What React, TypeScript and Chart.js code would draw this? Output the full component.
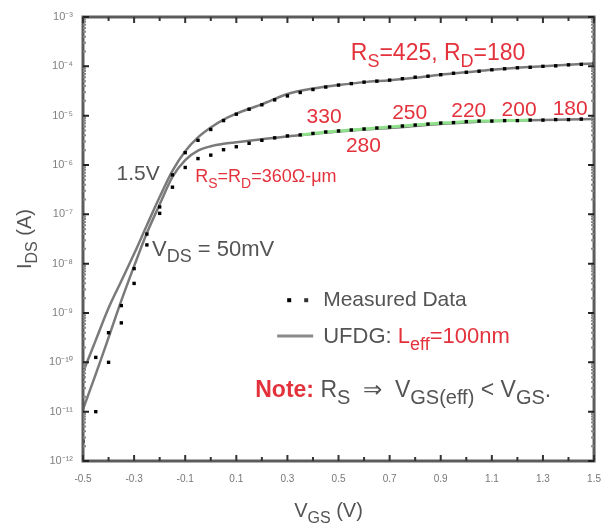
import { useEffect, useRef } from 'react';
import { Chart, registerables } from 'chart.js';

Chart.register(...registerables);

// ---------- data ----------
const vgsModel = [-0.5, -0.45, -0.4, -0.35, -0.3, -0.25, -0.2, -0.15, -0.1, -0.05, 0, 0.05, 0.1, 0.15, 0.2, 0.3, 0.4, 0.5, 0.6, 0.7, 0.8, 0.9, 1.0, 1.1, 1.2, 1.3, 1.4, 1.5];
// log10(Ids) of the UFDG model, Vds = 1.5 V
const logModelHigh = [-10.2, -9.55, -8.9, -8.35, -7.8, -7.22, -6.65, -6.12, -5.72, -5.44, -5.24, -5.08, -4.96, -4.86, -4.77, -4.56, -4.45, -4.38, -4.32, -4.28, -4.23, -4.17, -4.12, -4.07, -4.03, -4.0, -3.97, -3.94];
// log10(Ids) of the UFDG model, Vds = 50 mV
const logModelLow = [-10.95, -10.24, -9.5, -8.75, -8.05, -7.38, -6.8, -6.24, -5.9, -5.71, -5.62, -5.57, -5.54, -5.51, -5.48, -5.42, -5.37, -5.32, -5.28, -5.25, -5.21, -5.17, -5.14, -5.11, -5.1, -5.09, -5.08, -5.07];

const vgsMeasured = [-0.5, -0.45, -0.4, -0.35, -0.3, -0.25, -0.2, -0.15, -0.1, -0.05, 0, 0.05, 0.1, 0.15, 0.2, 0.25, 0.3, 0.35, 0.4, 0.45, 0.5, 0.55, 0.6, 0.65, 0.7, 0.75, 0.8, 0.85, 0.9, 0.95, 1.0, 1.05, 1.1, 1.15, 1.2, 1.25, 1.3, 1.35, 1.4, 1.45, 1.5];
// measured log10(Ids), Vds = 1.5 V
const logMeasHigh = [-10.3, -9.9, -9.4, -8.85, -8.1, -7.4, -6.85, -6.2, -5.75, -5.5, -5.28, -5.1, -4.97, -4.87, -4.78, -4.68, -4.6, -4.53, -4.47, -4.42, -4.38, -4.35, -4.32, -4.3, -4.28, -4.25, -4.22, -4.2, -4.17, -4.14, -4.12, -4.1, -4.07, -4.05, -4.03, -4.02, -4.0, -3.99, -3.97, -3.96, -3.94];
// measured log10(Ids), Vds = 50 mV
const logMeasLow = [-11.6, -11.0, -10.0, -9.2, -8.4, -7.62, -6.98, -6.45, -6.05, -5.87, -5.8, -5.69, -5.63, -5.56, -5.5, -5.45, -5.41, -5.39, -5.36, -5.33, -5.31, -5.29, -5.27, -5.25, -5.23, -5.21, -5.19, -5.17, -5.15, -5.14, -5.12, -5.11, -5.11, -5.1, -5.1, -5.09, -5.09, -5.08, -5.08, -5.07, -5.07];

// Vgs span of the green highlighted stretch on the 50 mV curve
const greenRange = [0.35, 1.25];

const yDecades = [-12, -11, -10, -9, -8, -7, -6, -5, -4, -3];
const xMin = -0.5;
const xMax = 1.5;
const xStep = 0.2;

// ---------- styles ----------
const FONT = '"Liberation Sans", Arial, Helvetica, sans-serif';
const RED = '#e4323c';
const GRAY = '#545454';

type Seg = { t: string; sub?: boolean; color?: string; bold?: boolean };
type Note = { v: number; e: number; size: number; subRatio?: number; color: string; segs: Seg[] };

const notes: Note[] = [
  { v: 0.548, e: -3.71, size: 23, color: RED, segs: [{ t: 'R' }, { t: 'S', sub: true }, { t: '=425, R' }, { t: 'D', sub: true }, { t: '=180' }] },
  { v: 0.375, e: -4.99, size: 21, color: RED, segs: [{ t: '330' }] },
  { v: 0.71, e: -4.905, size: 21, color: RED, segs: [{ t: '250' }] },
  { v: 0.941, e: -4.865, size: 21, color: RED, segs: [{ t: '220' }] },
  { v: 1.138, e: -4.845, size: 21, color: RED, segs: [{ t: '200' }] },
  { v: 1.338, e: -4.825, size: 21, color: RED, segs: [{ t: '180' }] },
  { v: 0.529, e: -5.574, size: 21, color: RED, segs: [{ t: '280' }] },
  { v: -0.369, e: -6.16, size: 21, color: GRAY, segs: [{ t: '1.5V' }] },
  { v: -0.061, e: -6.22, size: 18, color: RED, segs: [{ t: 'R' }, { t: 'S', sub: true }, { t: '=R' }, { t: 'D', sub: true }, { t: '=360Ω-μm' }] },
  { v: -0.23, e: -7.68, size: 22, color: GRAY, segs: [{ t: 'V' }, { t: 'DS', sub: true }, { t: ' = 50mV' }] },
  { v: 0.44, e: -8.7, size: 21, color: GRAY, segs: [{ t: 'Measured Data' }] },
  { v: 0.44, e: -9.446, size: 22, color: GRAY, segs: [{ t: 'UFDG: ' }, { t: 'L', color: RED }, { t: 'eff', sub: true, color: RED }, { t: '=100nm', color: RED }] },
  { v: 0.174, e: -10.54, size: 23, subRatio: 0.85, color: GRAY, segs: [{ t: 'Note:', color: RED, bold: true }, { t: ' R' }, { t: 'S', sub: true }, { t: '  ⇒  V' }, { t: 'GS(eff)', sub: true }, { t: ' < V' }, { t: 'GS', sub: true }, { t: '.' }] },
];

const SUP: Record<string, string> = { '-': '⁻', '0': '⁰', '1': '¹', '2': '²', '3': '³', '4': '⁴', '5': '⁵', '6': '⁶', '7': '⁷', '8': '⁸', '9': '⁹' };
const sup = (s: string) => s.split('').map((c) => SUP[c] || c).join('');

function segFont(s: Seg, size: number, ratio: number) {
  const px = s.sub ? Math.round(size * ratio) : size;
  return `${s.bold ? 'bold ' : ''}${px}px ${FONT}`;
}
function richWidth(ctx: CanvasRenderingContext2D, segs: Seg[], size: number, ratio: number) {
  let w = 0;
  for (const s of segs) {
    ctx.font = segFont(s, size, ratio);
    w += ctx.measureText(s.t).width;
  }
  return w;
}
function drawRich(ctx: CanvasRenderingContext2D, x: number, cy: number, segs: Seg[], size: number, color: string, align = 'left', ratio = 0.8) {
  let cx = align === 'center' ? x - richWidth(ctx, segs, size, ratio) / 2 : x;
  const base = cy + size * 0.36;
  ctx.textBaseline = 'alphabetic';
  ctx.textAlign = 'left';
  for (const s of segs) {
    ctx.font = segFont(s, size, ratio);
    ctx.fillStyle = s.color || color;
    ctx.fillText(s.t, cx, s.sub ? base + size * 0.3 : base);
    cx += ctx.measureText(s.t).width;
  }
}

const pts = (xs: number[], es: number[]) => xs.map((x, i) => ({ x, y: Math.pow(10, es[i]) }));

const decorPlugin = {
  id: 'decor',
  afterDraw(chart: any) {
    const ctx: CanvasRenderingContext2D = chart.ctx;
    const xs = chart.scales.x;
    const ys = chart.scales.y;
    const { left, right, top, bottom } = chart.chartArea;
    ctx.save();
    // frame
    ctx.strokeStyle = '#5c5c5c';
    ctx.lineWidth = 3;
    ctx.strokeRect(left, top, right - left, bottom - top);
    // y ticks (inward)
    ctx.lineWidth = 2;
    for (const d of yDecades) {
      const y = ys.getPixelForValue(Math.pow(10, d));
      ctx.strokeStyle = '#222';
      ctx.beginPath();
      ctx.moveTo(left, y); ctx.lineTo(left + 6, y);
      ctx.moveTo(right, y); ctx.lineTo(right - 6, y);
      ctx.stroke();
      if (d < -3) {
        ctx.strokeStyle = '#888';
        for (let m = 2; m <= 9; m++) {
          const ym = ys.getPixelForValue(m * Math.pow(10, d));
          ctx.beginPath();
          ctx.moveTo(left, ym); ctx.lineTo(left + 3, ym);
          ctx.moveTo(right, ym); ctx.lineTo(right - 3, ym);
          ctx.stroke();
        }
      }
    }
    // x ticks every half step
    ctx.strokeStyle = '#333';
    const n = Math.round((xMax - xMin) / (xStep / 2));
    for (let i = 0; i <= n; i++) {
      const x = xs.getPixelForValue(xMin + (i * xStep) / 2);
      ctx.beginPath();
      ctx.moveTo(x, bottom); ctx.lineTo(x, bottom - (i % 2 === 0 ? 6 : 4));
      ctx.moveTo(x, top); ctx.lineTo(x, top + (i % 2 === 0 ? 6 : 4));
      ctx.stroke();
    }
    // annotations
    for (const a of notes) {
      drawRich(ctx, xs.getPixelForValue(a.v), ys.getPixelForValue(Math.pow(10, a.e)), a.segs, a.size, a.color, 'left', a.subRatio ?? 0.8);
    }
    // legend markers
    const lx = xs.getPixelForValue(notes[10].v);
    const ly1 = ys.getPixelForValue(Math.pow(10, notes[10].e));
    const ly2 = ys.getPixelForValue(Math.pow(10, notes[11].e));
    ctx.fillStyle = '#000';
    ctx.fillRect(lx - 36, ly1, 4, 4);
    ctx.fillStyle = '#333';
    ctx.fillRect(lx - 19, ly1, 4, 4);
    ctx.strokeStyle = '#8a8a8a';
    ctx.lineWidth = 3;
    ctx.beginPath();
    ctx.moveTo(lx - 46, ly2 + 1); ctx.lineTo(lx - 10, ly2 + 1);
    ctx.stroke();
    // axis titles
    drawRich(ctx, (left + right) / 2 - 10, 510, [{ t: 'V' }, { t: 'GS', sub: true }, { t: ' (V)' }], 20, GRAY, 'center');
    ctx.translate(24, (top + bottom) / 2);
    ctx.rotate(-Math.PI / 2);
    drawRich(ctx, 0, 0, [{ t: 'I' }, { t: 'DS', sub: true }, { t: ' (A)' }], 20, GRAY, 'center');
    ctx.restore();
  },
};

export default function App() {
  const ref = useRef<HTMLCanvasElement | null>(null);
  useEffect(() => {
    if (!ref.current) return;
    const greenIdx = vgsMeasured.map((v, i) => (v >= greenRange[0] - 1e-9 && v <= greenRange[1] + 1e-9 ? i : -1)).filter((i) => i >= 0);
    const chart = new Chart(ref.current, {
      type: 'scatter',
      data: {
        datasets: [
          { label: 'Measured 1.5V', data: pts(vgsMeasured, logMeasHigh), showLine: false, pointStyle: 'rect', pointRadius: 2.4, backgroundColor: '#000', borderWidth: 0, order: 0 },
          { label: 'Measured 50mV', data: pts(vgsMeasured, logMeasLow), showLine: false, pointStyle: 'rect', pointRadius: 2.4, backgroundColor: '#000', borderWidth: 0, order: 0 },
          { label: 'green', data: greenIdx.map((i) => ({ x: vgsMeasured[i], y: Math.pow(10, logMeasLow[i]) })), showLine: true, borderColor: '#8ee08a', borderWidth: 3, pointRadius: 0, order: 1 },
          { label: 'UFDG 1.5V', data: pts(vgsModel, logModelHigh), showLine: true, borderColor: '#7a7a7a', borderWidth: 2.5, pointRadius: 0, cubicInterpolationMode: 'monotone', order: 2 },
          { label: 'UFDG 50mV', data: pts(vgsModel, logModelLow), showLine: true, borderColor: '#7a7a7a', borderWidth: 2.5, pointRadius: 0, cubicInterpolationMode: 'monotone', order: 2 },
        ] as any,
      },
      options: {
        animation: false,
        responsive: true,
        maintainAspectRatio: false,
        layout: { padding: { top: 17, right: 11, left: 0, bottom: 0 } },
        plugins: { legend: { display: false }, tooltip: { enabled: false } },
        scales: {
          x: {
            type: 'linear',
            min: xMin,
            max: xMax,
            grid: { display: false, drawTicks: false },
            border: { display: false },
            ticks: { stepSize: xStep, padding: 12, color: '#777', font: { size: 10, family: FONT }, maxRotation: 0, callback: (v: any) => Number(v).toFixed(1) },
            afterFit: (s: any) => { s.height = 64; },
          },
          y: {
            type: 'logarithmic',
            min: 1e-12,
            max: 1e-3,
            grid: { display: false, drawTicks: false },
            border: { display: false },
            afterBuildTicks: (s: any) => { s.ticks = yDecades.map((d) => ({ value: Math.pow(10, d) })); },
            ticks: { padding: 10, color: '#808080', font: { size: 11, family: FONT }, callback: (v: any) => '10' + sup(String(Math.round(Math.log10(Number(v))))) },
            afterFit: (s: any) => { s.width = 83; },
          },
        },
      } as any,
      plugins: [decorPlugin],
    });
    return () => chart.destroy();
  }, []);
  return (
    <div style={{ position: 'fixed', left: 0, top: 0, width: 613, height: 525, background: '#fff' }}>
      <canvas ref={ref} />
    </div>
  );
}
